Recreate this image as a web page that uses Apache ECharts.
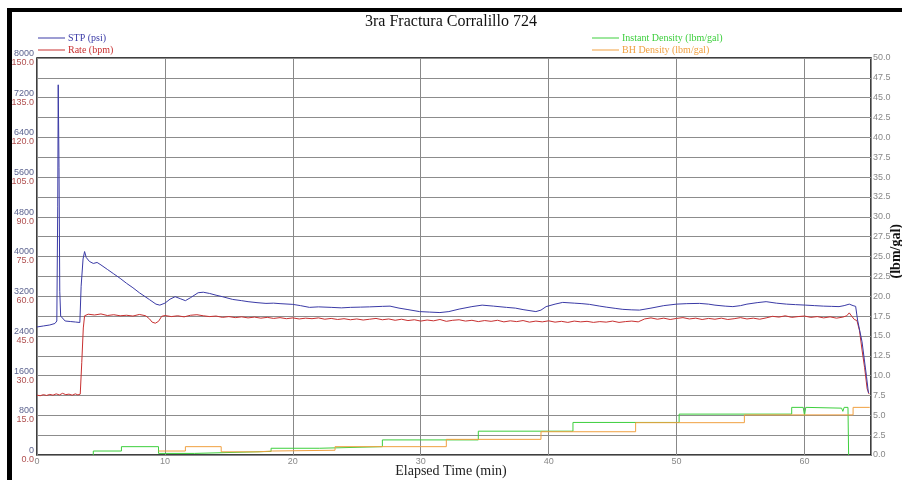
<!DOCTYPE html>
<html><head><meta charset="utf-8">
<script src="https://cdn.jsdelivr.net/npm/echarts@6/dist/echarts.min.js"></script>
<style>html,body{margin:0;padding:0;background:#fff}#c{width:902px;height:480px}</style>
</head><body><div id="c"></div>
<script>
// ---- data ----
const titleText = '3ra Fractura Corralillo 724';
const xName = 'Elapsed Time (min)';
const rightName = '(lbm/gal)';
const stpLabels = ['0','800','1600','2400','3200','4000','4800','5600','6400','7200','8000'];
const rateLabels = ['0.0','15.0','30.0','45.0','60.0','75.0','90.0','105.0','120.0','135.0','150.0'];

const stpT = [0,0.5,1.0,1.4,1.55,1.62,1.66,1.72,1.78,1.85,1.95,2.2,2.6,3.0,3.35,3.45,3.6,3.72,3.85,4.1,4.4,4.7,5.0,5.5,6.0,6.5,7.0,7.5,8.0,8.8,9.3,9.6,10.0,10.4,10.8,11.2,11.6,12.0,12.6,13.0,13.5,14.0,14.5,15.3,16.0,16.5,17.2,17.9,18.5,19.0,20.0,20.6,21.3,22.0,23.0,23.8,24.5,25.3,26.0,27.0,27.6,28.3,29.0,29.9,30.7,31.5,32.2,33.0,34.0,34.8,35.7,36.7,37.4,38.0,39.0,39.4,39.8,40.5,41.1,42.0,42.6,43.2,44.0,44.5,45.2,45.8,46.5,47.1,48.0,49.0,50.0,50.8,51.8,52.5,53.0,53.8,54.4,55.0,55.5,56.3,57.0,57.8,58.6,59.3,60.1,60.8,61.5,62.1,62.7,63.1,63.5,63.8,64.0,64.15,64.5,64.85,65.0];
const stpV = [2580,2600,2620,2650,2700,5000,7460,5800,3300,2800,2780,2700,2690,2680,2670,3400,3950,4100,3980,3900,3860,3880,3830,3740,3650,3560,3460,3370,3270,3130,3040,3020,3060,3140,3190,3150,3110,3170,3270,3280,3255,3220,3190,3135,3110,3090,3070,3055,3060,3050,3035,3010,2975,2985,2975,2965,2975,2980,2985,2995,3000,2960,2930,2890,2880,2870,2890,2940,2990,3020,3000,2975,2960,2930,2890,2920,2990,3040,3075,3060,3050,3035,3000,2980,2955,2935,2925,2920,2960,3010,3040,3050,3055,3040,3020,3000,2990,3010,3040,3070,3090,3060,3040,3030,3020,3010,3000,2995,2990,3010,3040,3010,2995,2720,2280,1580,1250];

const rateT = [0,0.25,0.5,0.75,1,1.25,1.5,1.75,2,2.25,2.5,2.75,3,3.2,3.38,3.5,3.62,3.72,4.0,4.5,5.0,5.5,6.0,6.5,7.0,7.5,8.0,8.5,8.8,9.0,9.25,9.5,9.75,10.0,10.5,11,11.5,12,12.5,13,13.5,14,14.5,15,15.5,16,16.5,17,17.5,18,18.5,19,19.5,20,20.5,21,21.5,22,22.5,23,23.5,24,24.5,25,25.5,26,26.5,27,27.5,28,28.5,29,29.5,30,30.5,31,31.5,32,32.5,33,33.5,34,34.5,35,35.5,36,36.5,37,37.5,38,38.5,39,39.5,40,40.5,41,41.5,42,42.5,43,43.5,44,44.5,45,45.5,46,46.5,47,47.5,48,48.5,49,49.5,50,50.5,51,51.5,52,52.5,53,53.5,54,54.5,55,55.5,56,56.5,57,57.5,58,58.5,59,59.5,60,60.5,61,61.5,62,62.5,63,63.3,63.5,63.7,63.9,64.1,64.3,64.5,64.7,64.9,65.05];
const rateV = [22.6,22.4,22.8,22.5,22.9,22.6,23.1,22.7,23.3,22.8,23.0,22.6,23.1,22.7,23.0,35,48,52.6,53.2,52.9,53.3,52.7,53.0,52.6,52.8,52.5,53.1,52.6,51.4,50.2,49.8,50.5,52.4,52.7,52.3,52.6,52.2,52.8,53.0,52.6,52.3,52.5,52.0,52.3,51.9,52.2,51.8,52.1,51.7,52.0,51.6,51.9,51.5,51.8,51.4,51.7,51.5,51.8,51.3,51.6,51.2,51.5,51.1,51.4,51.0,51.3,51.6,51.1,51.4,50.9,51.3,50.8,51.1,50.6,51.0,50.7,51.2,50.5,50.9,51.1,50.6,50.9,50.4,50.8,50.5,50.9,50.3,50.7,50.4,50.8,50.2,50.6,50.3,50.7,50.2,50.5,50.1,50.6,50.3,50.5,50.1,50.4,50.2,50.6,50.1,50.4,50.6,50.3,51.4,51.8,51.3,51.7,51.2,51.6,51.9,51.4,51.7,51.2,51.6,51.3,51.7,51.2,51.5,51.9,51.4,51.7,51.3,51.8,52.4,52.1,52.6,52.0,52.3,52.5,52.0,52.3,51.8,52.2,51.7,52.1,52.6,53.7,52.4,51.2,50.8,47,39.7,33,25,23];

const instT = [4.4,4.4,6.6,6.6,9.5,9.5,12.3,12.3,18.3,18.3,22.1,22.1,27.0,27.0,34.5,34.5,41.9,41.9,50.2,50.2,59.0,59.0,59.9,60.0,60.1,62.9,63.0,63.1,63.4,63.45,63.5];
const instV = [0,0.5,0.5,1.05,1.05,0.2,0.2,0.45,0.45,0.85,0.85,1.05,1.05,1.9,1.9,3.0,3.0,4.1,4.1,5.15,5.15,6.0,6.0,5.0,6.0,5.9,5.5,6.0,6.0,0,0];

const bhT = [9.5,11.6,11.6,14.4,14.4,17.3,17.3,18.4,18.4,23.3,23.3,32.0,32.0,39.4,39.4,46.8,46.8,55.3,55.3,63.8,63.8,65.1];
const bhV = [0.5,0.5,1.05,1.05,0.4,0.4,0.5,0.5,0.6,0.6,1.05,1.05,1.97,1.97,2.93,2.93,4.07,4.07,5.05,5.05,6.0,6.0];

function pairs(t, v) { return t.map((x, i) => [x, v[i]]); }

const serif = 'Liberation Serif';
const sans = 'Liberation Sans';
const cSTP = '#3a3aa6', cRate = '#c83030', cInst = '#3dcf3d', cBH = '#f0a040';

const chart = echarts.init(document.getElementById('c'), null, {renderer: 'canvas'});
chart.setOption({
  animation: false,
  backgroundColor: '#fff',
  title: {text: titleText, left: 'center', top: 14, padding: 0,
    textStyle: {fontFamily: serif, fontSize: 16, fontWeight: 'normal', color: '#111'}},
  graphic: [
    {type: 'rect', shape: {x: 7, y: 8, width: 895, height: 4}, style: {fill: '#000'}, z: 100},
    {type: 'rect', shape: {x: 7, y: 8, width: 5, height: 472}, style: {fill: '#000'}, z: 100},
    {type: 'text', left: 889, top: 224, rotation: Math.PI / 2, z: 100,
      style: {text: rightName, font: 'bold 14px "Liberation Serif"', fill: '#111'}},
    {type: 'text', left: 'center', top: 464, z: 100,
      style: {text: xName, font: '14px "Liberation Serif"', fill: '#222'}}
  ],
  legend: [
    {left: 38, top: 32, padding: 0, orient: 'vertical', itemWidth: 27, itemHeight: 1, itemGap: 0, icon: 'rect',
      textStyle: {fontFamily: serif, fontSize: 10, padding: [0, 0, 0, -2], lineHeight: 12},
      data: [{name: 'STP (psi)', textStyle: {color: cSTP}}, {name: 'Rate (bpm)', textStyle: {color: cRate}}]},
    {left: 592, top: 32, padding: 0, orient: 'vertical', itemWidth: 27, itemHeight: 1, itemGap: 0, icon: 'rect',
      textStyle: {fontFamily: serif, fontSize: 10, padding: [0, 0, 0, -2], lineHeight: 12},
      data: [{name: 'Instant Density (lbm/gal)', textStyle: {color: cInst}}, {name: 'BH Density (lbm/gal)', textStyle: {color: cBH}}]}
  ],
  grid: {left: 37, right: 31, top: 58, bottom: 25, show: true, borderColor: '#000', borderWidth: 1.5,
    containLabel: false, outerBoundsMode: 'none'},
  xAxis: {type: 'value', min: 0, max: 65.2, interval: 10,
    axisLine: {show: false}, axisTick: {show: false},
    axisLabel: {fontFamily: sans, fontSize: 9, color: '#888', margin: 2,
      formatter: v => (v > 65 ? '' : String(v))},
    splitLine: {show: true, lineStyle: {color: '#888', width: 1}}},
  yAxis: [
    {type: 'value', min: 0, max: 8000, interval: 400, position: 'left',
      axisLine: {show: false}, axisTick: {show: false}, splitLine: {show: false},
      axisLabel: {margin: 3, fontFamily: sans, fontSize: 9, lineHeight: 9,
        formatter: v => { const i = Math.round(v / 800); if (Math.abs(v - i * 800) > 1) return ''; return '{a|' + stpLabels[i] + '}\n{b|' + rateLabels[i] + '}'; },
        rich: {a: {color: '#5d6490', fontSize: 9, fontFamily: sans, lineHeight: 9, align: 'right'},
               b: {color: '#b05050', fontSize: 9, fontFamily: sans, lineHeight: 9, align: 'right'}}}},
    {type: 'value', min: 0, max: 150, show: false},
    {type: 'value', min: 0, max: 50, interval: 2.5, position: 'right',
      axisLine: {show: false}, axisTick: {show: false},
      axisLabel: {margin: 2, fontFamily: sans, fontSize: 9, color: '#888', formatter: v => v.toFixed(1)},
      splitLine: {show: true, lineStyle: {color: '#8c8c8c', width: 1}}}
  ],
  series: [
    {name: 'STP (psi)', type: 'line', yAxisIndex: 0, data: pairs(stpT, stpV), showSymbol: false, symbol: 'none',
      lineStyle: {color: cSTP, width: 1}, itemStyle: {color: cSTP}, z: 5},
    {name: 'Rate (bpm)', type: 'line', yAxisIndex: 1, data: pairs(rateT, rateV), showSymbol: false, symbol: 'none',
      lineStyle: {color: cRate, width: 1}, itemStyle: {color: cRate}, z: 4},
    {name: 'Instant Density (lbm/gal)', type: 'line', yAxisIndex: 2, data: pairs(instT, instV), showSymbol: false, symbol: 'none',
      lineStyle: {color: cInst, width: 1}, itemStyle: {color: cInst}, z: 3},
    {name: 'BH Density (lbm/gal)', type: 'line', yAxisIndex: 2, data: pairs(bhT, bhV), showSymbol: false, symbol: 'none',
      lineStyle: {color: cBH, width: 1}, itemStyle: {color: cBH}, z: 3}
  ]
});
</script></body></html>
